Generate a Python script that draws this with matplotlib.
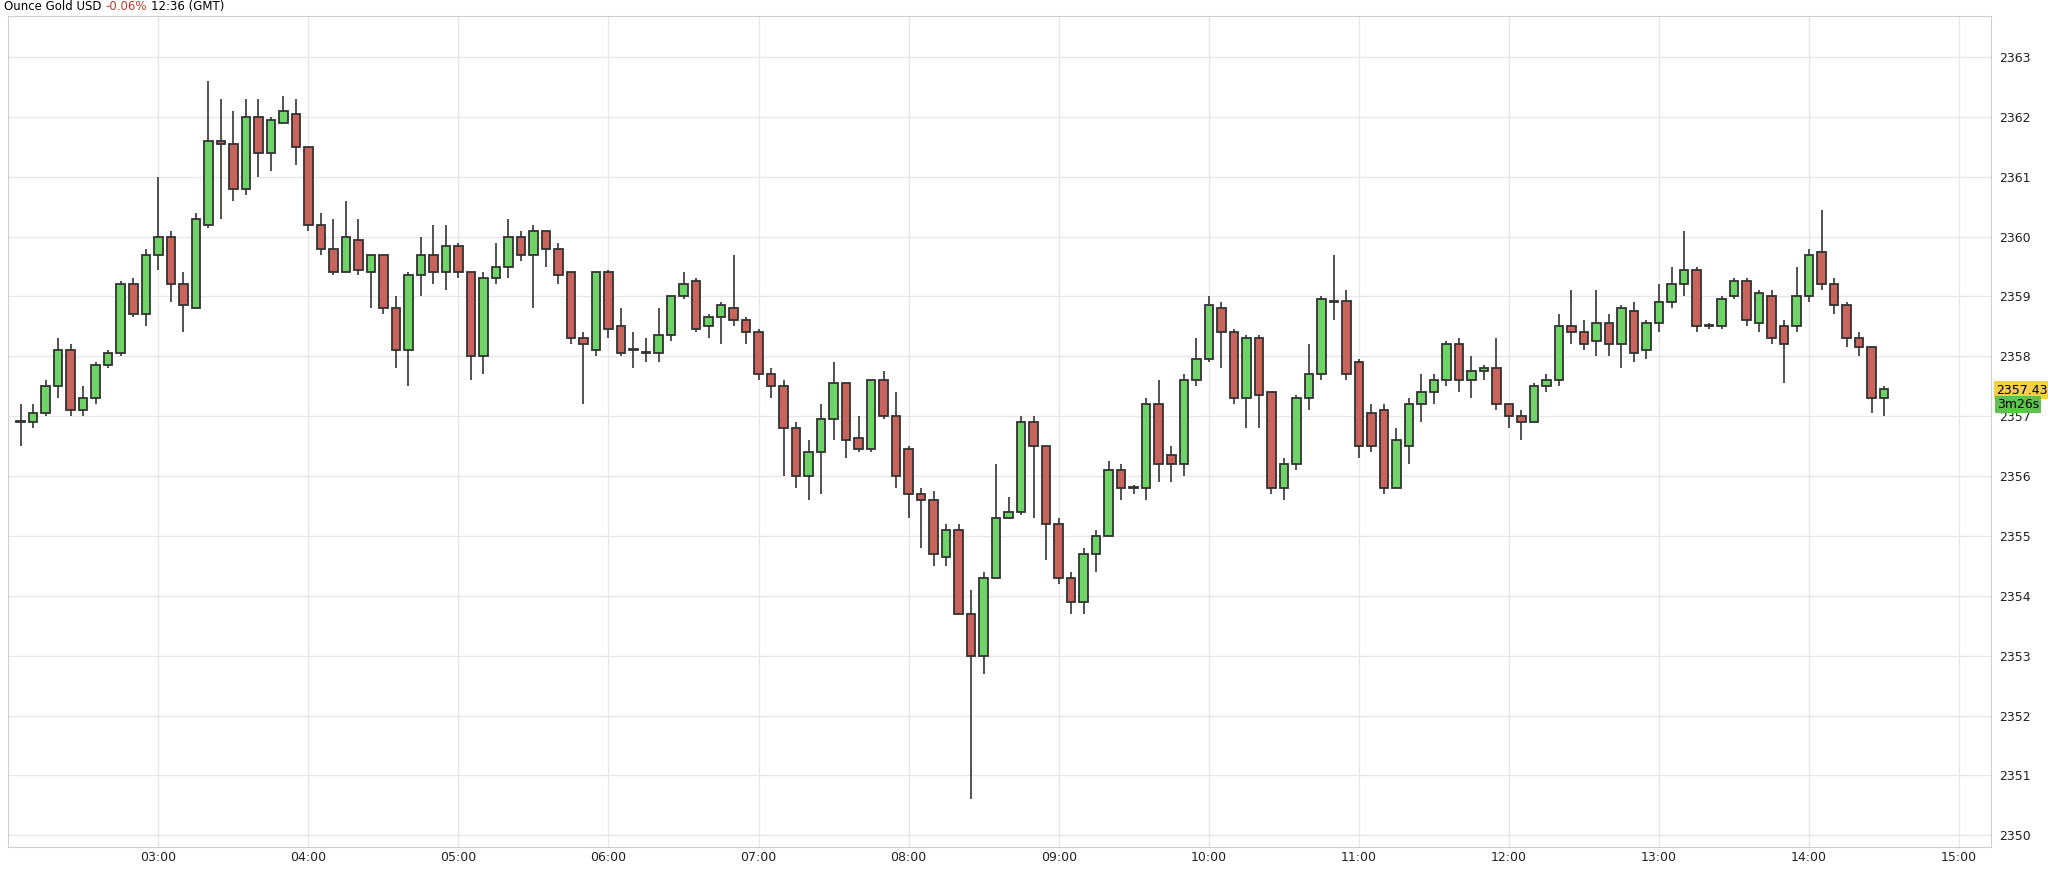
import matplotlib.pyplot as plt
import numpy as np

# candles, 5 minute bars starting 02:05 (GMT)
opens = [2356.9, 2356.9, 2357.05, 2357.5, 2358.1, 2357.1, 2357.3, 2357.85, 2358.05, 2359.2,
         2358.7, 2359.7, 2360.0, 2359.2, 2358.8, 2360.2, 2361.6, 2361.55, 2360.8, 2362.0,
         2361.4, 2361.9, 2362.05, 2361.5, 2360.2, 2359.8, 2359.4, 2359.95, 2359.4, 2359.7,
         2358.8, 2358.1, 2359.35, 2359.7, 2359.4, 2359.85, 2359.4, 2358.0, 2359.3, 2359.5,
         2360.0, 2359.7, 2360.1, 2359.8, 2359.4, 2358.3, 2358.1, 2359.4, 2358.5, 2358.1,
         2358.05, 2358.05, 2358.35, 2359.0, 2359.25, 2358.5, 2358.65, 2358.8, 2358.6, 2358.4,
         2357.7, 2357.5, 2356.8, 2356.0, 2356.4, 2356.95, 2357.55, 2356.64, 2356.45, 2357.6,
         2357.0,
         2356.45, 2355.7, 2355.6, 2354.65, 2355.1, 2353.7, 2353.0, 2354.3, 2355.3, 2355.4,
         2356.9, 2356.5, 2355.2, 2354.3, 2353.9, 2354.7, 2355.0, 2356.1, 2355.8, 2355.8,
         2357.2, 2356.35, 2356.2, 2357.6, 2357.95, 2358.8, 2358.4, 2357.3, 2358.3, 2357.4,
         2355.8, 2356.2, 2357.3, 2357.7, 2358.9, 2358.93, 2357.9, 2357.05, 2357.1, 2355.8,
         2356.5, 2357.2, 2357.4, 2357.6, 2358.2, 2357.6, 2357.75, 2357.8, 2357.2, 2357.0,
         2356.9, 2357.5, 2357.6, 2358.5, 2358.4, 2358.25, 2358.55, 2358.2, 2358.75, 2358.1,
         2358.55, 2358.9, 2359.2, 2359.45, 2358.5, 2358.5, 2359.0, 2359.25, 2358.55, 2359.0,
         2358.5, 2358.5, 2359.0, 2359.75, 2359.2, 2358.85, 2358.3, 2358.15, 2357.3]
closes = [2356.9, 2357.05, 2357.5, 2358.1, 2357.1, 2357.3, 2357.85, 2358.05, 2359.2, 2358.7,
          2359.7, 2360.0, 2359.2, 2358.85, 2360.3, 2361.6, 2361.55, 2360.8, 2362.0, 2361.4,
          2361.95, 2362.1, 2361.5, 2360.2, 2359.8, 2359.4, 2360.0, 2359.45, 2359.7, 2358.8,
          2358.1, 2359.35, 2359.7, 2359.4, 2359.85, 2359.4, 2358.0, 2359.3, 2359.5, 2360.0,
          2359.7, 2360.1, 2359.8, 2359.35, 2358.3, 2358.2, 2359.4, 2358.45, 2358.05, 2358.1,
          2358.05, 2358.35, 2359.0, 2359.2, 2358.45, 2358.65, 2358.85, 2358.6, 2358.4, 2357.7,
          2357.5, 2356.8, 2356.0, 2356.4, 2356.95, 2357.55, 2356.6, 2356.45, 2357.6, 2357.0,
          2356.0,
          2355.7, 2355.6, 2354.7, 2355.1, 2353.7, 2353.0, 2354.3, 2355.3, 2355.4, 2356.9,
          2356.5, 2355.2, 2354.3, 2353.9, 2354.7, 2355.0, 2356.1, 2355.8, 2355.8, 2357.2,
          2356.2, 2356.2, 2357.6, 2357.95, 2358.85, 2358.4, 2357.3, 2358.3, 2357.35, 2355.8,
          2356.2, 2357.3, 2357.7, 2358.95, 2358.9, 2357.7, 2356.5, 2356.5, 2355.8, 2356.6,
          2357.2, 2357.4, 2357.6, 2358.2, 2357.6, 2357.75, 2357.8, 2357.2, 2357.0, 2356.9,
          2357.5, 2357.6, 2358.5, 2358.4, 2358.2, 2358.55, 2358.2, 2358.8, 2358.05, 2358.55,
          2358.9, 2359.2, 2359.45, 2358.5, 2358.5, 2358.95, 2359.25, 2358.6, 2359.05, 2358.3,
          2358.2, 2359.0, 2359.7, 2359.2, 2358.85, 2358.3, 2358.15, 2357.3, 2357.45]
highs = [2357.2, 2357.2, 2357.6, 2358.3, 2358.2, 2357.5, 2357.9, 2358.1, 2359.25, 2359.3,
         2359.8, 2361.0, 2360.1, 2359.4, 2360.4, 2362.6, 2362.3, 2362.1, 2362.3, 2362.3,
         2362.0, 2362.35, 2362.3, 2361.5, 2360.4, 2360.3, 2360.6, 2360.3, 2359.7, 2359.7,
         2359.0, 2359.4, 2360.0, 2360.2, 2360.2, 2359.9, 2359.4, 2359.4, 2359.9, 2360.3,
         2360.1, 2360.2, 2360.1, 2359.9, 2359.4, 2358.4, 2359.4, 2359.45, 2358.8, 2358.4,
         2358.3, 2358.8, 2359.0, 2359.4, 2359.3, 2358.7, 2358.9, 2359.7, 2358.65, 2358.45,
         2357.8, 2357.6, 2356.9, 2356.6, 2357.2, 2357.9, 2357.55, 2357.0, 2357.6, 2357.75,
         2357.4,
         2356.5, 2355.8, 2355.75, 2355.2, 2355.2, 2354.1, 2354.4, 2356.2, 2355.65, 2357.0,
         2357.0, 2356.5, 2355.3, 2354.4, 2354.8, 2355.1, 2356.25, 2356.2, 2355.85, 2357.3,
         2357.6, 2356.5, 2357.7, 2358.3, 2359.0, 2358.9, 2358.45, 2358.35, 2358.35, 2357.4,
         2356.3, 2357.35, 2358.2, 2359.0, 2359.7, 2359.1, 2357.95, 2357.2, 2357.2, 2356.8,
         2357.3, 2357.7, 2357.7, 2358.25, 2358.3, 2358.0, 2357.85, 2358.3, 2357.2, 2357.1,
         2357.55, 2357.7, 2358.7, 2359.1, 2358.6, 2359.1, 2358.7, 2358.85, 2358.9, 2358.6,
         2359.2, 2359.5, 2360.1, 2359.5, 2358.55, 2359.0, 2359.3, 2359.3, 2359.1, 2359.1,
         2358.6, 2359.5, 2359.8, 2360.45, 2359.3, 2358.9, 2358.4, 2358.15, 2357.5]
lows = [2356.5, 2356.8, 2357.0, 2357.3, 2357.0, 2357.0, 2357.2, 2357.8, 2358.0, 2358.65,
        2358.5, 2359.45, 2358.9, 2358.4, 2358.8, 2360.15, 2360.3, 2360.6, 2360.7, 2361.0,
        2361.1, 2361.9, 2361.2, 2360.1, 2359.7, 2359.35, 2359.4, 2359.35, 2358.8, 2358.7,
        2357.8, 2357.5, 2359.0, 2359.2, 2359.1, 2359.3, 2357.6, 2357.7, 2359.2, 2359.3,
        2359.6, 2358.8, 2359.5, 2359.2, 2358.2, 2357.2, 2358.0, 2358.3, 2358.0, 2357.8,
        2357.9, 2357.9, 2358.25, 2358.95, 2358.4, 2358.3, 2358.2, 2358.5, 2358.2, 2357.6,
        2357.3, 2356.0, 2355.8, 2355.6, 2355.7, 2356.6, 2356.3, 2356.4, 2356.4, 2356.95,
        2355.8,
        2355.3, 2354.8, 2354.5, 2354.5, 2353.7, 2350.6, 2352.7, 2354.3, 2355.3, 2355.35,
        2355.3, 2354.6, 2354.2, 2353.7, 2353.7, 2354.4, 2355.0, 2355.6, 2355.7, 2355.6,
        2355.9, 2355.9, 2356.0, 2357.5, 2357.9, 2357.8, 2357.2, 2356.8, 2356.8, 2355.7,
        2355.6, 2356.1, 2357.1, 2357.6, 2358.6, 2357.6, 2356.3, 2356.4, 2355.7, 2355.8,
        2356.2, 2356.9, 2357.2, 2357.5, 2357.4, 2357.3, 2357.6, 2357.1, 2356.8, 2356.6,
        2356.9, 2357.4, 2357.5, 2358.2, 2358.1, 2358.0, 2358.0, 2357.8, 2357.9, 2357.95,
        2358.4, 2358.8, 2359.0, 2358.4, 2358.45, 2358.45, 2358.95, 2358.5, 2358.4, 2358.2,
        2357.55, 2358.4, 2358.9, 2359.1, 2358.7, 2358.15, 2358.0, 2357.05, 2357.0]

y_ticks = list(range(2350, 2364))
x_tick_labels = ["03:00", "04:00", "05:00", "06:00", "07:00", "08:00", "09:00",
                 "10:00", "11:00", "12:00", "13:00", "14:00", "15:00"]
last_price = "2357.43"
countdown = "3m26s"

o = np.array(opens)
c = np.array(closes)
h = np.array(highs)
l = np.array(lows)
t = 2 + 5 / 60 + np.arange(len(o)) * 5 / 60  # hours

fig = plt.figure(figsize=(20.48, 8.69), dpi=100)
ax = fig.add_axes([0.004, 0.025, 0.968, 0.957])

green = "#6fd468"
red = "#c9645c"
up = c >= o
cols = [green if u else red for u in up]

ax.vlines(t, l, h, color="#444444", linewidth=1.3, zorder=2)
body_h = np.abs(c - o)
body_h = np.where(body_h < 0.02, 0.02, body_h)
ax.bar(t, body_h, bottom=np.minimum(o, c), width=5 / 60 * 0.68,
       color=cols, edgecolor="#333333", linewidth=1.3, zorder=3)

ax.set_xlim(2.0, 15.21)
ax.set_ylim(2349.8, 2363.69)
ax.set_xticks(range(3, 16))
ax.set_xticklabels(x_tick_labels, fontsize=9, color="#222222")
ax.set_yticks(y_ticks)
ax.set_yticklabels([str(v) for v in y_ticks], fontsize=9, color="#222222")
for lab in ax.get_yticklabels():
    if lab.get_text() in ("2355", "2360"):
        lab.set_fontweight("bold")
ax.yaxis.tick_right()
ax.tick_params(length=0, pad=6)
ax.tick_params(axis="x", pad=3)
ax.grid(True, color="#e8e8e8", linewidth=1)
ax.set_axisbelow(True)
for s in ax.spines.values():
    s.set_color("#cfcfcf")

# last price tags
ax.text(1.003, 2357.43, last_price, transform=ax.get_yaxis_transform(), fontsize=9,
        va="center", ha="left",
        bbox=dict(boxstyle="square,pad=0.2", fc="#f5cf48", ec="none"))
ax.text(1.003, 2357.2, countdown, transform=ax.get_yaxis_transform(), fontsize=9,
        va="center", ha="left",
        bbox=dict(boxstyle="square,pad=0.15", fc="#5ec24f", ec="none"))

# title, pieces chained one after another
t1 = fig.text(0.002, 0.992, "Ounce Gold USD", fontsize=8.5, va="center", ha="left")
t2 = fig.text(0, 0, "-0.06%", fontsize=8.5, color="#c0392b", va="center", ha="left")
t3 = fig.text(0, 0, "12:36 (GMT)", fontsize=8.5, va="center", ha="left")
fig.canvas.draw()
r = fig.canvas.get_renderer()
gap = 4 / fig.bbox.width
bb = t1.get_window_extent(r).transformed(fig.transFigure.inverted())
t2.set_position((bb.x1 + gap, 0.992))
bb = t2.get_window_extent(r).transformed(fig.transFigure.inverted())
t3.set_position((bb.x1 + gap, 0.992))

fig.savefig("out.png", dpi=100)
